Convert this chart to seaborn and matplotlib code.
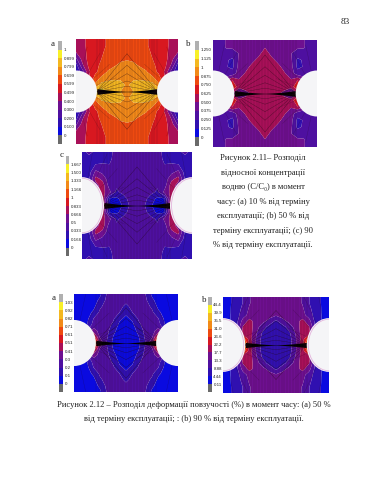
import numpy as np
import matplotlib
matplotlib.use('Agg')
import matplotlib.pyplot as plt
from matplotlib.colors import ListedColormap
from matplotlib.patches import Ellipse
import seaborn as sns

sns.set_theme(style='white')
plt.rcParams['font.family'] = ['Liberation Serif', 'DejaVu Serif']

W, H = 370, 480

band_colors = ['#0a0ae0', '#3010b0', '#4e10a0', '#6e1090', '#a81058',
               '#d81820', '#ee4a10', '#f28a18', '#f4b820', '#f8f028']
gray_top = '#b0b0b0'
gray_bottom = '#6a6a6a'

# tick labels, top to bottom
ticks_a = ['1', '0.899', '0.799', '0.699', '0.599', '0.499', '0.400', '0.300', '0.200', '0.100', '0']
ticks_b = ['1.250', '1.125', '1', '0.875', '0.750', '0.625', '0.500', '0.375', '0.250', '0.125', '0']
ticks_c = ['1.667', '1.500', '1.333', '1.166', '1', '0.833', '0.666', '0.5', '0.333', '0.166', '0']
ticks_d = ['1.03', '0.92', '0.82', '0.71', '0.61', '0.51', '0.41', '0.3', '0.2', '0.1', '0']
ticks_e = ['44.4', '39.9', '35.5', '31.0', '26.6', '22.2', '17.7', '13.3', '8.88', '4.44', '0.11']

# contour levels, low to high
levels_a = [0, .1, .2, .3, .4, .5, .6, .7, .8, .9, 1]
levels_b = [0, .125, .25, .375, .5, .625, .75, .875, 1, 1.125, 1.25]
levels_c = [0, .166, .333, .5, .666, .833, 1, 1.166, 1.333, 1.5, 1.667]
levels_d = [0, .1, .2, .3, .41, .51, .61, .71, .82, .92, 1.03]
levels_e = [0.11, 4.44, 8.88, 13.3, 17.7, 22.2, 26.6, 31.0, 35.5, 39.9, 44.4]

# one quadrant of each field: rows top -> centre line, columns left edge -> centre
field_a = [[.44, .48, .52, .55, .58, .61, .63, .65, .66],
           [.44, .48, .52, .55, .58, .61, .63, .66, .67],
           [.40, .47, .52, .56, .59, .62, .65, .67, .68],
           [.28, .44, .53, .56, .60, .63, .66, .68, .69],
           [.15, .38, .52, .57, .62, .66, .69, .72, .73],
           [.12, .25, .48, .58, .64, .71, .74, .76, .77],
           [.40, .40, .50, .64, .73, .77, .79, .79, .78],
           [.40, .40, .50, .72, .84, .85, .83, .82, .79],
           [.50, .50, .60, .92, .95, .90, .85, .80, .78]]

field_b = [[.32, .34, .38, .40, .42, .43, .44, .44, .45],
           [.32, .34, .38, .40, .42, .43, .44, .46, .49],
           [.30, .32, .36, .32, .38, .43, .45, .47, .55],
           [.28, .30, .27, .22, .40, .44, .47, .53, .56],
           [.28, .28, .26, .22, .42, .46, .53, .56, .57],
           [.25, .25, .25, .30, .44, .51, .56, .57, .58],
           [.40, .40, .50, .62, .51, .56, .57, .58, .58],
           [.40, .40, .50, .75, .55, .56, .57, .58, .58],
           [.40, .40, .50, .50, .30, .45, .52, .56, .58]]

field_c = [[.25, .40, .28, .25, .28, .40, .42, .42, .42],
           [.25, .25, .25, .27, .30, .40, .42, .42, .42],
           [.22, .22, .35, .36, .34, .36, .42, .42, .42],
           [.20, .25, .55, .45, .36, .38, .42, .42, .42],
           [.20, .30, .72, .62, .38, .38, .42, .42, .42],
           [.20, .30, .60, .75, .42, .36, .42, .42, .42],
           [.30, .40, .60, .72, .55, .30, .38, .42, .42],
           [.30, .40, .60, .80, .14, .12, .25, .40, .42],
           [.30, .40, .60, .90, .10, .10, .18, .36, .42]]

field_d = [[.04, .05, .05, .06, .08, .20, .24, .25, .25],
           [.04, .05, .05, .06, .12, .22, .25, .25, .24],
           [.04, .04, .05, .07, .18, .24, .25, .24, .17],
           [.04, .04, .06, .12, .22, .25, .25, .20, .12],
           [.04, .04, .07, .20, .25, .25, .22, .12, .08],
           [.04, .04, .10, .24, .25, .25, .18, .08, .06],
           [.04, .05, .20, .35, .26, .24, .13, .06, .05],
           [.10, .20, .30, .60, .28, .22, .10, .05, .05],
           [.20, .30, .40, .90, .40, .20, .08, .05, .03]]

field_e = [[3, 4, 6, 9, 13, 14.5, 15, 15.5, 15.5],
           [3, 4, 6, 9, 13, 15, 15.5, 15.5, 15.5],
           [3, 4, 6.5, 10, 14, 15.5, 16, 16, 15.5],
           [3, 4, 7, 11, 15, 16, 16, 15, 14],
           [3, 4, 7, 15, 19, 16, 14.5, 12, 8],
           [3.5, 5, 8, 18, 20, 15, 11, 7, 6],
           [4, 6, 10, 19, 20, 14, 8, 6, 6],
           [5, 8, 12, 30, 20, 13, 7, 6, 5.5],
           [6, 9, 14, 40, 21, 13, 7, 6, 5.5]]


def px_axes(x0, y0, x1, y1):
    return fig.add_axes([x0 / W, 1 - y1 / H, (x1 - x0) / W, (y1 - y0) / H])


def draw_bar(box, labels):
    ax = px_axes(*box)
    table = np.arange(12).reshape(12, 1)
    colors = [gray_top] + band_colors[::-1] + [gray_bottom]
    sns.heatmap(table, ax=ax, cmap=ListedColormap(colors), cbar=False,
                xticklabels=False, yticklabels=False, linewidths=0)
    ax.set_yticks(range(1, 12))
    ax.set_yticklabels(labels, fontsize=3.2, family=['Liberation Sans'],
                       color='#222222', rotation=0)
    ax.yaxis.tick_right()
    ax.tick_params(axis='y', length=0, pad=1)


def draw_field(box, quadrant, levels, hole, outline=False):
    ax = px_axes(*box)
    q = np.array(quadrant)
    top = np.hstack([q, q[:, -2::-1]])
    z = np.vstack([top, top[-2::-1]])
    x = np.linspace(-1, 1, z.shape[1])
    y = np.linspace(1, -1, z.shape[0])
    ax.contourf(x, y, z, levels=levels, colors=band_colors, antialiased=True)

    rx, ry = hole
    xe = 1 - rx
    # mesh between the holes
    for v in np.linspace(-xe, xe, 23):
        ax.plot([v, v], [-1, 1], color='#300a20', lw=0.3, alpha=0.4)
    for k in [.1, .2, .34, .5, .72]:
        xs = np.array([-xe, 0, xe])
        ax.plot(xs, [0, k, 0], color='#200810', lw=0.3, alpha=0.6)
        ax.plot(xs, [0, -k, 0], color='#200810', lw=0.3, alpha=0.6)
    # mesh round the holes
    for ang in np.linspace(0.3, 1.3, 4):
        for sx in (-1, 1):
            for sy in (-1, 1):
                ax.plot([sx * (1 - rx * np.cos(ang)), sx * (1 - 2.0 * rx * np.cos(ang))],
                        [sy * ry * np.sin(ang), sy * 2.2 * ry * np.sin(ang)],
                        color='#200810', lw=0.3, alpha=0.3)
    # dense elements along the crack line
    xs = np.linspace(-xe, xe, 81)
    t = 0.05 * (np.abs(xs) / xe) ** 1.5 + 0.004
    ax.fill_between(xs, -t, t, color='black', lw=0)

    for cx in (-1, 1):
        ax.add_patch(Ellipse((cx, 0), 2 * rx, 2 * ry, fc='#f5f5f7', ec='none', zorder=3))
        if outline:
            ax.add_patch(Ellipse((cx, 0), 2 * rx * 0.93, 2 * ry * 0.96, fc='none', ec='#e4b4dc',
                                 lw=0.6, zorder=4))
    ax.set_xlim(-1, 1)
    ax.set_ylim(-1, 1)
    ax.axis('off')
    return ax


fig = plt.figure(figsize=(W / 100, H / 100), dpi=100, facecolor='white')

draw_bar((58, 41, 62, 144), ticks_a)
draw_field((76, 39, 178, 144), field_a, levels_a, (.41, .40))

draw_bar((195, 41, 199, 146), ticks_b)
draw_field((213, 40, 317, 147), field_b, levels_b, (.41, .43))

draw_bar((66, 156, 69, 256), ticks_c)
draw_field((82, 152, 192, 259), field_c, levels_c, (.40, .53), outline=True)

draw_bar((59, 294, 63, 392), ticks_d)
draw_field((74, 294, 178, 392), field_d, levels_d, (.42, .47))

draw_bar((208, 297, 212, 392), ticks_e)
draw_field((223, 297, 329, 393), field_e, levels_e, (.42, .56), outline=True)


def page_text(x, y, s, size=6.1, ha='center', **kw):
    fig.text(x / W, 1 - y / H, s, fontsize=size, ha=ha, va='center', color='#222222', **kw)


page_text(345, 22, '83', size=6.6)
for x, y, s in [(53, 44, 'a'), (188, 44, 'b'), (62, 155, 'c'), (54, 298, 'a'), (204, 300, 'b')]:
    page_text(x, y, s, size=6.5)

caption_211 = ['Рисунок 2.11– Розподіл', 'відносної концентрації', 'водню (C/C₀) в момент',
               'часу: (а) 10 % від терміну', 'експлуатації; (b) 50 % від',
               'терміну експлуатації; (с) 90', '% від терміну експлуатації.']
caption_y = [158, 173, 187, 202, 216, 231, 245]
for y, s in zip(caption_y, caption_211):
    page_text(263, y, s)

page_text(194, 405, 'Рисунок 2.12 – Розподіл деформації повзучості (%) в момент часу: (а) 50 %')
page_text(194, 419, 'від терміну експлуатації; : (b) 90 % від терміну експлуатації.')

fig.savefig('out.png', dpi=100, facecolor='white')
